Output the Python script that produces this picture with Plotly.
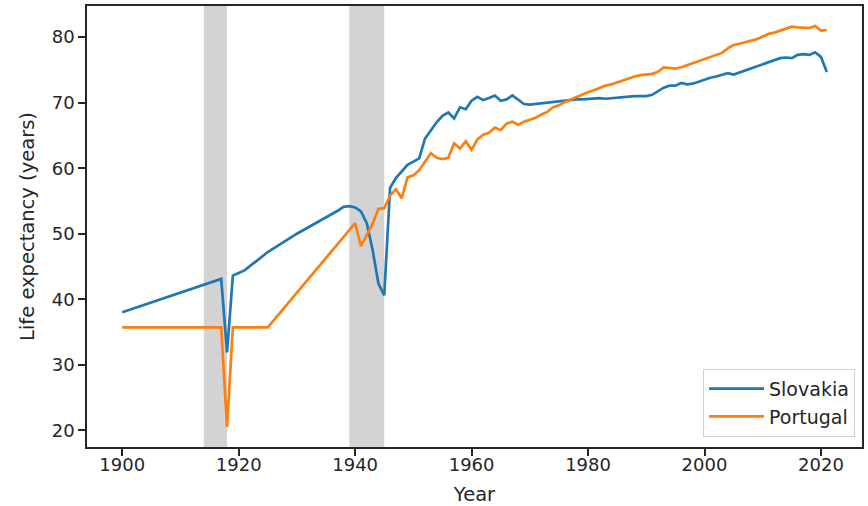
import plotly.graph_objects as go

# Slovakia
sk_years = [1900, 1917, 1918, 1919, 1920, 1921, 1925, 1930, 1937, 1938, 1939, 1940,
            1941, 1942, 1943, 1944, 1945, 1946, 1947, 1948, 1949, 1950, 1951, 1952,
            1953, 1954, 1955, 1956, 1957, 1958, 1959, 1960, 1961, 1962, 1963, 1964,
            1965, 1966, 1967, 1968, 1969, 1970, 1971, 1972, 1973, 1974, 1975, 1976,
            1977, 1978, 1979, 1980, 1981, 1982, 1983, 1984, 1985, 1986, 1987, 1988,
            1989, 1990, 1991, 1992, 1993, 1994, 1995, 1996, 1997, 1998, 1999, 2000,
            2001, 2002, 2003, 2004, 2005, 2006, 2007, 2008, 2009, 2010, 2011, 2012,
            2013, 2014, 2015, 2016, 2017, 2018, 2019, 2020, 2021]
sk_values = [38.0, 43.1, 31.9, 43.6, 44.0, 44.4, 47.2, 50.0, 53.5, 54.1, 54.2, 54.0,
             53.4, 51.6, 47.5, 42.4, 40.6, 57.0, 58.5, 59.5, 60.5, 61.0, 61.5, 64.5,
             65.8, 67.0, 68.0, 68.5, 67.6, 69.3, 69.0, 70.3, 70.9, 70.4, 70.7, 71.1,
             70.3, 70.5, 71.1, 70.4, 69.8, 69.7, 69.8, 70.0, 70.1, 70.2, 70.3, 70.4,
             70.5, 70.5, 70.5, 70.6, 70.6, 70.7, 70.6, 70.7, 70.8, 70.9, 70.9, 71.0,
             71.0, 71.0, 71.2, 71.8, 72.3, 72.6, 72.6, 73.0, 72.8, 72.9, 73.2, 73.6,
             73.8, 74.0, 74.2, 74.5, 74.3, 74.6, 74.9, 75.3, 75.6, 75.9, 76.2, 76.5,
             76.8, 76.9, 76.8, 77.3, 77.4, 77.3, 77.7, 77.0, 74.7]

# Portugal
pt_years = [1900, 1917, 1918, 1919, 1925, 1940, 1941, 1942, 1943, 1944, 1945, 1946,
            1947, 1948, 1949, 1950, 1951, 1952, 1953, 1954, 1955, 1956, 1957, 1958,
            1959, 1960, 1961, 1962, 1963, 1964, 1965, 1966, 1967, 1968, 1969, 1970,
            1971, 1972, 1973, 1974, 1975, 1976, 1977, 1978, 1979, 1980, 1981, 1982,
            1983, 1984, 1985, 1986, 1987, 1988, 1989, 1990, 1991, 1992, 1993, 1994,
            1995, 1996, 1997, 1998, 1999, 2000, 2001, 2002, 2003, 2004, 2005, 2006,
            2007, 2008, 2009, 2010, 2011, 2012, 2013, 2014, 2015, 2016, 2017, 2018,
            2019, 2020, 2021]
pt_values = [35.7, 35.7, 20.5, 35.7, 35.7, 51.6, 48.1, 49.8, 51.5, 53.8, 53.9, 55.8,
             56.8, 55.4, 58.6, 58.9, 59.7, 61.0, 62.3, 61.6, 61.4, 61.6, 63.8, 63.0,
             64.1, 62.8, 64.4, 65.1, 65.4, 66.2, 65.8, 66.8, 67.1, 66.6, 67.1, 67.4,
             67.7, 68.2, 68.6, 69.3, 69.6, 70.1, 70.5, 70.9, 71.2, 71.6, 71.9, 72.3,
             72.6, 72.8, 73.1, 73.4, 73.8, 74.0, 74.2, 74.3, 74.4, 74.7, 75.4, 75.3,
             75.2, 75.4, 75.7, 76.0, 76.3, 76.6, 76.9, 77.3, 77.6, 78.3, 78.8, 79.0,
             79.2, 79.5, 79.7, 80.1, 80.5, 80.7, 81.0, 81.3, 81.6, 81.5, 81.4, 81.4,
             81.7, 81.0, 81.1]

# War periods (shaded)
war_starts = [1914, 1939]
war_ends = [1918, 1945]

x_ticks = [1900, 1920, 1940, 1960, 1980, 2000, 2020]
y_ticks = [20, 30, 40, 50, 60, 70, 80]

fig = go.Figure()
fig.add_trace(go.Scatter(x=sk_years, y=sk_values, mode="lines", name="Slovakia",
                         line=dict(color="#1f77b4", width=2.7)))
fig.add_trace(go.Scatter(x=pt_years, y=pt_values, mode="lines", name="Portugal",
                         line=dict(color="#ff7f0e", width=2.7)))

for s, e in zip(war_starts, war_ends):
    fig.add_shape(type="rect", xref="x", yref="paper", x0=s, x1=e, y0=0, y1=1,
                  fillcolor="#d3d3d3", line=dict(width=0), layer="below")

all_years = sk_years + pt_years
all_vals = sk_values + pt_values
xmin, xmax = min(all_years), max(all_years)
ymin, ymax = min(all_vals), max(all_vals)
xpad = (xmax - xmin) * 0.05
ypad = (ymax - ymin) * 0.05

font = "DejaVu Sans"
axis_common = dict(showgrid=False, zeroline=False, showline=True, mirror=True,
                   linecolor="#262626", linewidth=1.5, ticks="outside", ticklen=7,
                   tickwidth=1.5, tickcolor="#262626", automargin=False,
                   tickfont=dict(family=font, size=18, color="#262626"))
title_font = dict(family=font, size=19.5, color="#262626")
fig.update_layout(
    width=868, height=506,
    margin=dict(l=87, r=6, t=6, b=59),
    plot_bgcolor="white", paper_bgcolor="white",
    font=dict(family=font, size=18, color="#262626"),
    showlegend=True,
    legend=dict(x=0.991, y=0.023, xanchor="right", yanchor="bottom",
                bgcolor="white", bordercolor="#d0d0d0", borderwidth=1,
                font=dict(size=19, family=font, color="#262626"),
                itemwidth=55, tracegroupgap=0),
    xaxis=dict(range=[xmin - xpad, xmax + xpad], tickvals=x_ticks,
               ticklabelstandoff=-6,
               title=dict(text="Year", standoff=14, font=title_font),
               **axis_common),
    yaxis=dict(range=[ymin - ypad, ymax + ypad], tickvals=y_ticks,
               title=dict(text="Life expectancy (years)", standoff=12, font=title_font),
               **axis_common),
)

fig.write_html("out.html", config={"displayModeBar": False},
               post_script="document.body.style.margin='0px';document.body.style.overflow='hidden';")
